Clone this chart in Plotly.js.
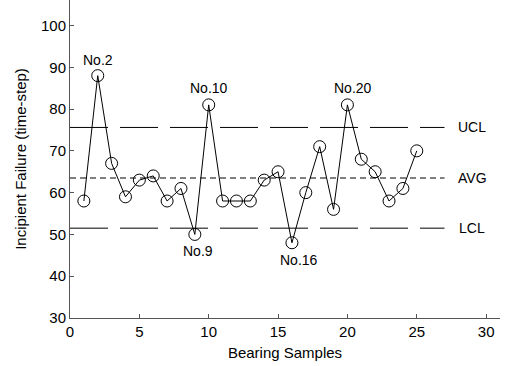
<!DOCTYPE html>
<html><head><meta charset="utf-8">
<script src="https://cdn.plot.ly/plotly-3.0.1.min.js"></script>
<style>html,body{margin:0;padding:0;background:#fff}#c{width:508px;height:366px}</style>
</head><body><div id="c"></div>
<script>
const samples = [1,2,3,4,5,6,7,8,9,10,11,12,13,14,15,16,17,18,19,20,21,22,23,24,25];
const failure = [58,88,67,59,63,64,58,61,50,81,58,58,58,63,65,48,60,71,56,81,68,65,58,61,70];
const limitNames = ["UCL","AVG","LCL"];
const limitValues = [75.6,63.5,51.5];
const limitSpan = [0,27];
const callouts = ["No.2","No.10","No.20","No.9","No.16"];
const calloutX = [2,10,20.4,9.2,16.5];
const calloutY = [91.8,85,85,46,44];

const traces = [];
const dashes = ["38px,12px","6px,4px","38px,12px"];
limitNames.forEach((n,i)=>{
  traces.push({x:limitSpan,y:[limitValues[i],limitValues[i]],mode:'lines',
    line:{color:'#000',width:1,dash:dashes[i]},hoverinfo:'skip',showlegend:false});
});
traces.push({x:samples,y:failure,mode:'lines+markers',
  line:{color:'#000',width:1},
  marker:{symbol:'circle-open',size:12,color:'#000',line:{width:1,color:'#000'}},
  showlegend:false});

const ann = [];
limitNames.forEach((n,i)=>ann.push({x:29,y:limitValues[i],text:n,showarrow:false,xanchor:'center',yanchor:'middle',font:{size:14,color:'#000'}}));
callouts.forEach((t,i)=>ann.push({x:calloutX[i],y:calloutY[i],text:t,showarrow:false,xanchor:'center',yanchor:'middle',font:{size:14,color:'#000'}}));

const layout = {
  width:508,height:366,
  margin:{l:70,r:8,t:0,b:48},
  paper_bgcolor:'#fff',plot_bgcolor:'#fff',
  font:{family:'"Liberation Sans", Arial, sans-serif',color:'#000',size:14},
  xaxis:{range:[0,31],tickvals:[0,5,10,15,20,25,30],showgrid:false,zeroline:false,
    showline:true,linecolor:'#555',linewidth:1,ticks:'inside',ticklen:4,tickcolor:'#555',
    title:{text:'Bearing Samples',font:{size:15},standoff:8},tickfont:{size:15}},
  yaxis:{range:[30,106.1],tickvals:[30,40,50,60,70,80,90,100],showgrid:false,zeroline:false,
    showline:true,linecolor:'#555',linewidth:1,ticks:'inside',ticklen:4,tickcolor:'#555',
    title:{text:'Incipient Failure (time-step)',font:{size:15},standoff:10},tickfont:{size:15}},
  annotations:ann
};
Plotly.newPlot('c',traces,layout,{staticPlot:true});
</script></body></html>
